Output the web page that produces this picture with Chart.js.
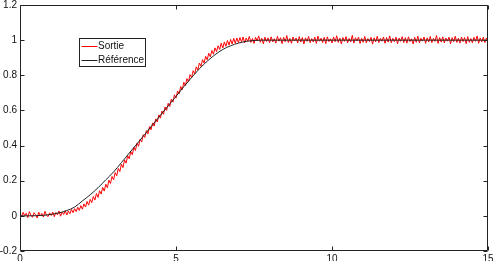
<!DOCTYPE html>
<html>
<head>
<meta charset="utf-8">
<script src="https://cdn.jsdelivr.net/npm/chart.js@4/dist/chart.umd.min.js"></script>
<style>
html,body{margin:0;padding:0;background:#fff;}
canvas{display:block;}
</style>
</head>
<body>
<canvas id="c" width="493" height="261"></canvas>
<script>
// ---- data ----
const seriesNames = ['Sortie', 'Référence'];
const sortieStep = 0.05; // sampling period of the measured output (s)
const sortieY = [
  0.012,-0.006,0.020,0.001,0.015,-0.010,0.024,0.004,-0.008,0.018,0.006,-0.012,0.021,0.000,0.014,-0.007,0.026,0.003,-0.004,0.017,
  0.002,0.022,-0.005,0.019,0.006,0.028,-0.002,0.021,0.008,0.030,0.005,0.027,0.012,0.036,0.018,0.041,0.024,0.049,0.031,0.058,
  0.038,0.068,0.050,0.082,0.061,0.094,0.075,0.110,0.090,0.127,0.105,0.143,0.124,0.162,0.141,0.180,0.160,0.203,0.184,0.224,
  0.205,0.246,0.228,0.270,0.252,0.294,0.275,0.318,0.300,0.342,0.325,0.366,0.348,0.390,0.372,0.414,0.396,0.437,0.420,0.462,
  0.446,0.485,0.466,0.508,0.490,0.529,0.511,0.552,0.534,0.575,0.556,0.596,0.578,0.620,0.600,0.641,0.622,0.665,0.647,0.689,
  0.670,0.711,0.694,0.736,0.718,0.760,0.741,0.781,0.763,0.804,0.786,0.826,0.808,0.848,0.830,0.870,0.851,0.889,0.870,0.908,
  0.888,0.925,0.905,0.941,0.920,0.956,0.935,0.968,0.947,0.983,0.955,0.990,0.965,0.998,0.972,1.004,0.978,1.010,0.982,1.012,
  0.986,1.015,0.990,1.018,0.984,1.012,0.993,1.021,0.987,1.009,0.981,1.016,0.995,1.024,0.988,1.011,0.979,1.017,0.992,1.013,
  0.985,1.019,0.990,1.008,0.983,1.022,0.994,1.014,0.980,1.016,0.991,1.026,0.986,1.010,0.982,1.018,0.995,1.012,0.984,1.020,
  0.989,1.015,0.978,1.013,0.993,1.021,0.985,1.009,0.990,1.017,0.981,1.023,0.994,1.011,0.986,1.016,0.980,1.019,0.992,1.008,
  0.984,1.018,0.991,1.025,0.987,1.012,0.979,1.015,0.993,1.020,0.985,1.010,0.990,1.027,0.983,1.014,0.995,1.017,0.981,1.011,
  0.988,1.021,0.984,1.009,0.992,1.016,0.977,1.013,0.990,1.022,0.986,1.011,0.994,1.018,0.982,1.015,0.989,1.024,0.985,1.010,
  0.991,1.017,0.980,1.012,0.993,1.020,0.986,1.014,0.983,1.019,0.992,1.008,0.978,1.016,0.988,1.023,0.984,1.011,0.995,1.018,
  0.982,1.013,0.990,1.021,0.986,1.010,0.993,1.026,0.981,1.015,0.989,1.019,0.984,1.012,0.994,1.017,0.979,1.014,0.991,1.022,
  0.987,1.011,0.983,1.018,0.992,1.015,0.980,1.020,0.988,1.009,0.985,1.016,0.993,1.024,0.982,1.013,0.990,1.017,0.986,1.012,
  0.995
];
const refT = [0,0.25,0.5,0.75,1,1.25,1.5,1.75,2,2.25,2.5,2.75,3,3.25,3.5,3.75,4,4.25,4.5,4.75,5,5.25,5.5,5.75,6,6.25,6.5,6.75,7,7.25,7.5,7.75,8,9,10,11,12,13,14,15];
const refY = [0,0,0.001,0.003,0.008,0.017,0.03,0.05,0.085,0.12,0.16,0.205,0.25,0.303,0.357,0.41,0.464,0.518,0.572,0.626,0.68,0.735,0.787,0.837,0.88,0.917,0.947,0.968,0.983,0.993,0.998,1,1,1,1,1,1,1,1,1];
const xTicks = [0, 5, 10, 15];
const yTicks = [-0.2, 0, 0.2, 0.4, 0.6, 0.8, 1, 1.2];
const yTickLabels = ['-0.2', '0', '0.2', '0.4', '0.6', '0.8', '1', '1.2'];

// ---- build ----
const FONT = '"Liberation Sans", Arial, Helvetica, sans-serif';
const sortieData = sortieY.map((v, i) => ({x: +(i * sortieStep).toFixed(2), y: v}));
const refData = refT.map((t, i) => ({x: t, y: refY[i]}));

const framePlugin = {
  id: 'frame',
  afterDatasetsDraw(chart) {
    const {ctx, chartArea: a, scales: {x, y}} = chart;
    const L = Math.round(a.left) + 0.5, R = Math.round(a.right) - 0.5;
    const T = Math.round(a.top) + 0.5, B = Math.round(a.bottom) - 0.5;
    ctx.save();
    ctx.strokeStyle = '#222';
    ctx.lineWidth = 1;
    ctx.beginPath();
    ctx.rect(L, T, R - L, B - T);
    const tl = 4;
    xTicks.forEach(v => {
      const px = Math.round(x.getPixelForValue(v)) + 0.5;
      ctx.moveTo(px, B); ctx.lineTo(px, B - tl);
      ctx.moveTo(px, T); ctx.lineTo(px, T + tl);
    });
    yTicks.forEach(v => {
      const py = Math.round(y.getPixelForValue(v)) + 0.5;
      ctx.moveTo(L, py); ctx.lineTo(L + tl, py);
      ctx.moveTo(R, py); ctx.lineTo(R - tl, py);
    });
    ctx.stroke();
    ctx.restore();
  }
};

const legendPlugin = {
  id: 'boxLegend',
  afterDraw(chart) {
    const {ctx, chartArea: a} = chart;
    const bx = a.left + 59.5, by = a.top + 33.5, bw = 66, bh = 28;
    ctx.save();
    ctx.fillStyle = '#fff';
    ctx.fillRect(bx, by, bw, bh);
    ctx.strokeStyle = '#222';
    ctx.lineWidth = 1;
    ctx.strokeRect(bx, by, bw, bh);
    ctx.font = '10px ' + FONT;
    ctx.textBaseline = 'middle';
    ctx.textAlign = 'left';
    const ds = chart.data.datasets;
    const rows = [by + 7.5, by + 21];
    ds.forEach((d, i) => {
      const yy = Math.round(rows[i]) + 0.5;
      ctx.strokeStyle = d.borderColor;
      ctx.beginPath();
      ctx.moveTo(bx + 2, yy);
      ctx.lineTo(bx + 18, yy);
      ctx.stroke();
      ctx.fillStyle = '#111';
      ctx.fillText(d.label, bx + 18.5, yy);
    });
    ctx.restore();
  }
};

new Chart(document.getElementById('c'), {
  type: 'line',
  data: {
    datasets: [
      {label: seriesNames[0], data: sortieData, borderColor: '#ff0000', borderWidth: 1, pointRadius: 0, tension: 0, order: 1},
      {label: seriesNames[1], data: refData, borderColor: '#222222', borderWidth: 1, pointRadius: 0, cubicInterpolationMode: 'monotone', order: 0}
    ]
  },
  options: {
    responsive: false,
    animation: false,
    devicePixelRatio: 1,
    layout: {padding: {left: 0, right: 5, top: 5, bottom: 0}},
    plugins: {legend: {display: false}, tooltip: {enabled: false}},
    scales: {
      x: {
        type: 'linear', min: 0, max: 15,
        grid: {display: false, drawTicks: false},
        border: {display: false},
        afterBuildTicks: s => { s.ticks = xTicks.map(v => ({value: v})); },
        afterFit: s => { s.height = 10; s.paddingLeft = 0; s.paddingRight = 0; },
        ticks: {padding: 2, color: '#111', font: {family: FONT, size: 10}, maxRotation: 0, autoSkip: false,
          callback: v => String(v)}
      },
      y: {
        type: 'linear', min: -0.2, max: 1.2,
        grid: {display: false, drawTicks: false},
        border: {display: false},
        afterBuildTicks: s => { s.ticks = yTicks.map(v => ({value: v})); },
        afterFit: s => { s.width = 20; s.paddingTop = 0; s.paddingBottom = 0; },
        ticks: {padding: 3, color: '#111', font: {family: FONT, size: 10}, autoSkip: false,
          callback: (v, i) => yTickLabels[i]}
      }
    }
  },
  plugins: [framePlugin, legendPlugin]
});
</script>
</body>
</html>
